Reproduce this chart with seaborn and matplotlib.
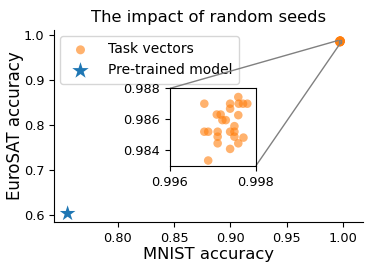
import numpy as np
import pandas as pd
import seaborn as sns
import matplotlib.pyplot as plt
from mpl_toolkits.axes_grid1.inset_locator import mark_inset

# task vectors fine-tuned with different random seeds
mnist_acc = [0.99680, 0.99740, 0.99740, 0.99759, 0.99760, 0.99770, 0.99780,
             0.99759, 0.99709, 0.99718, 0.99722, 0.99730, 0.99750, 0.99680,
             0.99689, 0.99711, 0.99740, 0.99750, 0.99711, 0.99711, 0.99750,
             0.99771, 0.99759, 0.99740, 0.99689]
eurosat_acc = [0.98701, 0.98701, 0.98669, 0.98744, 0.98701, 0.98701, 0.98701,
               0.98627, 0.98631, 0.98631, 0.98595, 0.98595, 0.98556, 0.98520,
               0.98520, 0.98520, 0.98520, 0.98520, 0.98488, 0.98445, 0.98488,
               0.98482, 0.98445, 0.98409, 0.98334]
pre_mnist = [0.7554]
pre_eurosat = [0.6037]

sns.set_style("ticks", {"axes.edgecolor": "black", "xtick.color": "black",
                        "ytick.color": "black", "text.color": "black",
                        "axes.labelcolor": "black"})

tv = pd.DataFrame({"MNIST": mnist_acc, "EuroSAT": eurosat_acc})
pre = pd.DataFrame({"MNIST": pre_mnist, "EuroSAT": pre_eurosat})

fig, ax = plt.subplots(figsize=(3.81, 2.70), dpi=100)
sns.scatterplot(data=tv, x="MNIST", y="EuroSAT", ax=ax, color="C1", alpha=0.6,
                s=38, edgecolor="none", label="Task vectors")
sns.scatterplot(data=pre, x="MNIST", y="EuroSAT", ax=ax, color="C0", marker="*",
                s=140, edgecolor="none", label="Pre-trained model")
ax.set_xlim(0.7434, 1.0175)
ax.set_ylim(0.585, 1.011)
ax.set_xticks([0.80, 0.85, 0.90, 0.95, 1.00])
ax.set_yticks([0.6, 0.7, 0.8, 0.9, 1.0])
ax.tick_params(labelsize=9.3, length=3.5)
ax.set_xlabel("MNIST accuracy", fontsize=11.8, labelpad=2)
ax.set_ylabel("EuroSAT accuracy", fontsize=12, labelpad=0)
ax.set_title("The impact of random seeds", fontsize=11.8)
ax.legend(loc="upper left", fontsize=10, frameon=True, handletextpad=1.0,
          borderaxespad=0.45, borderpad=0.45, markerscale=1.05)
sns.despine(ax=ax)

# zoomed view of the task vectors
axins = fig.add_axes([0.446, 0.386, 0.2257, 0.2867])
sns.scatterplot(data=tv, x="MNIST", y="EuroSAT", ax=axins, color="C1",
                alpha=0.6, s=38, edgecolor="none", legend=False)
axins.set_xlim(0.996, 0.998)
axins.set_ylim(0.983, 0.988)
axins.set_xticks([0.996, 0.998])
axins.set_yticks([0.984, 0.986, 0.988])
axins.tick_params(labelsize=9.3, length=3.5)
axins.set_xlabel("")
axins.set_ylabel("")
for s in axins.spines.values():
    s.set_visible(True)
mark_inset(ax, axins, loc1=2, loc2=4, fc="none", ec="0.5")

fig.subplots_adjust(left=0.142, right=0.952, top=0.889, bottom=0.178)
fig.savefig("out.png", dpi=100)
